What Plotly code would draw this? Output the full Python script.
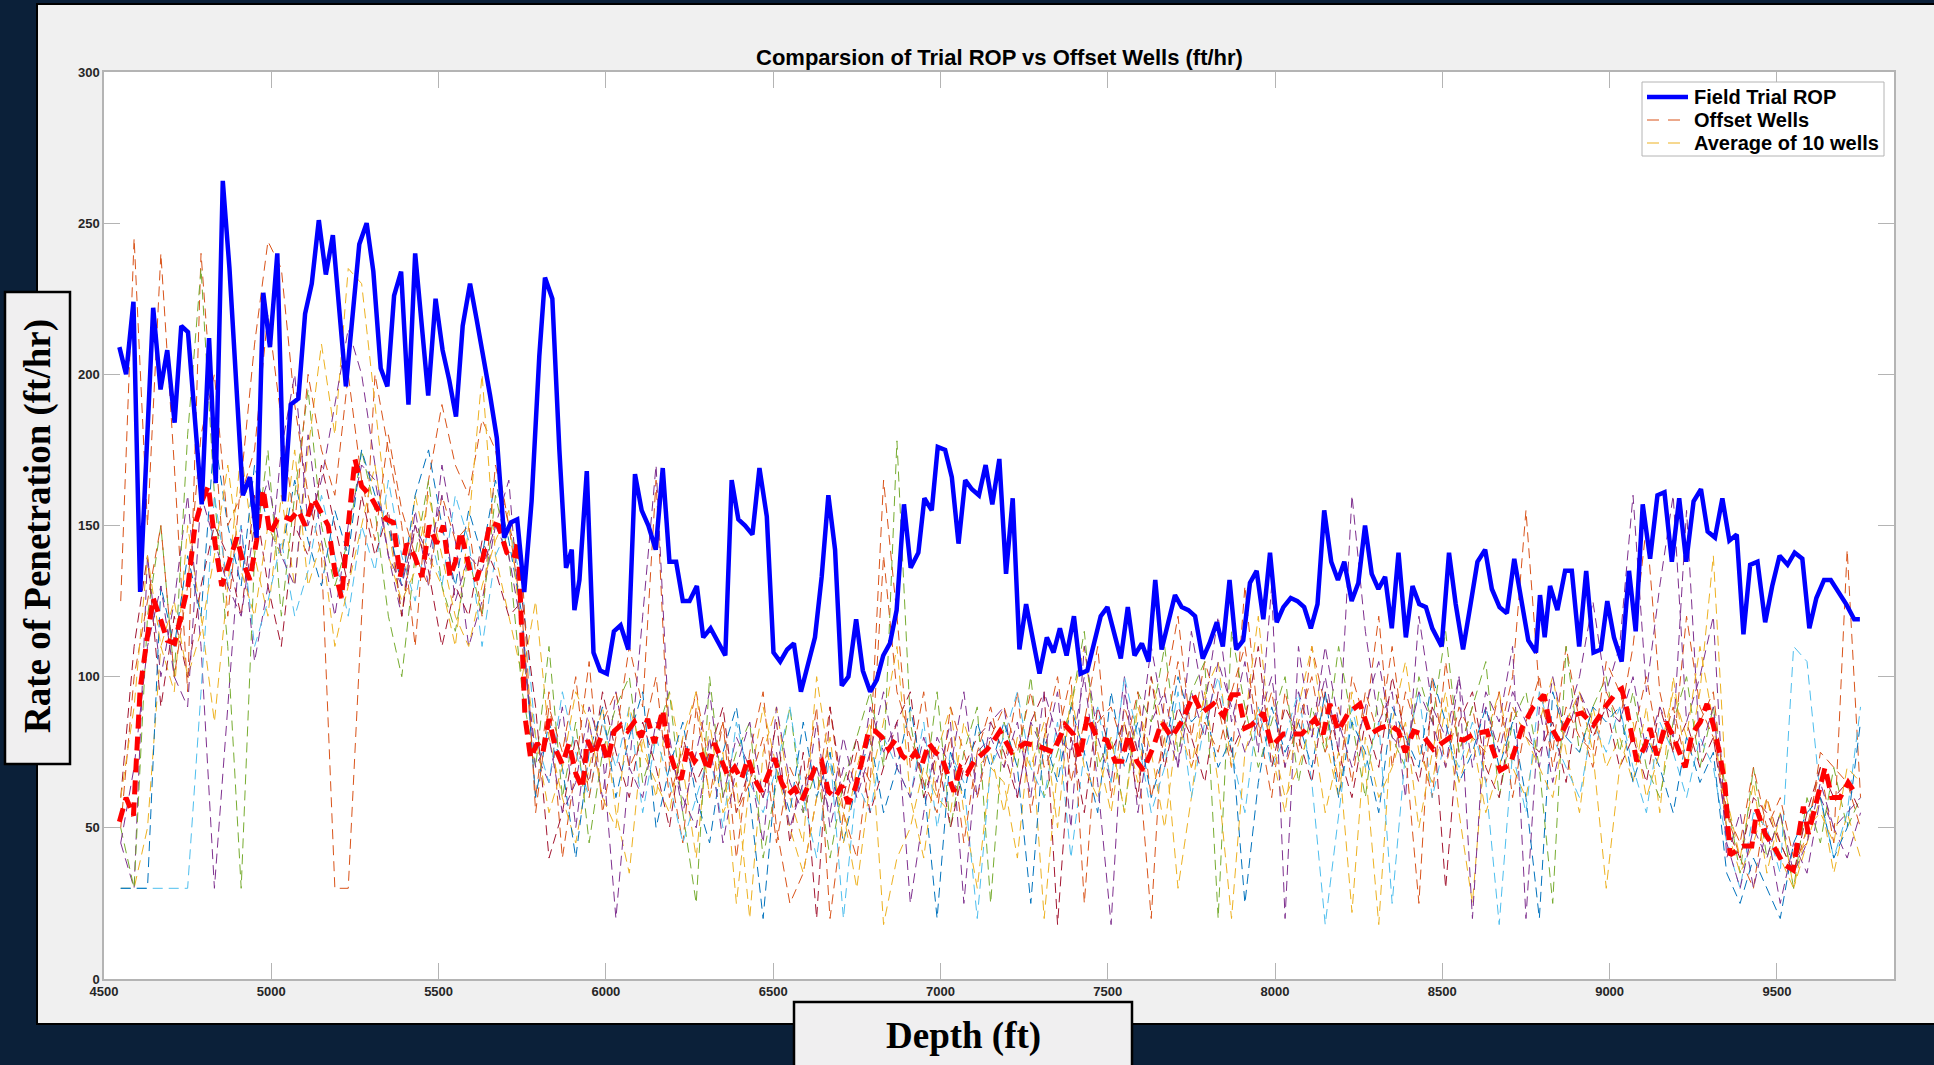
import plotly.graph_objects as go

W, H = 1934, 1065

# ---------------- field trial ROP (ft/hr) ----------------
trial_depth = [
    4546, 4566, 4588, 4608, 4647, 4669, 4689, 4711, 4731, 4751, 4792, 4814, 4834, 4855, 4875,
    4915, 4936, 4956, 4976, 4996, 5018, 5038, 5058, 5081, 5101, 5121, 5142, 5163, 5184, 5223,
    5263, 5285, 5305, 5327, 5347, 5367, 5388, 5410, 5430, 5469, 5491, 5512, 5532, 5552, 5572,
    5594, 5614, 5634, 5654, 5674, 5696, 5716, 5735, 5756, 5778, 5801, 5818, 5840, 5861, 5881,
    5898, 5906, 5921, 5943, 5963, 5983, 6003, 6024, 6044, 6067, 6087, 6107, 6127, 6149, 6170,
    6190, 6210, 6230, 6250, 6272, 6291, 6313, 6336, 6357, 6376, 6396, 6416, 6438, 6459, 6481,
    6501, 6521, 6542, 6562, 6583, 6604, 6625, 6645, 6665, 6685, 6705, 6725, 6748, 6768, 6790,
    6810, 6829, 6849, 6869, 6891, 6911, 6934, 6952, 6974, 6992, 7014, 7034, 7054, 7074, 7094,
    7115, 7135, 7155, 7176, 7196, 7216, 7236, 7256, 7276, 7296, 7318, 7338, 7357, 7377, 7399,
    7419, 7439, 7459, 7479, 7499, 7519, 7539, 7560, 7580, 7602, 7622, 7642, 7661, 7681, 7701,
    7721, 7741, 7761, 7784, 7804, 7826, 7844, 7864, 7884, 7905, 7925, 7945, 7965, 7985, 8005,
    8025, 8047, 8067, 8087, 8107, 8127, 8147, 8168, 8188, 8207, 8229, 8249, 8269, 8289, 8309,
    8329, 8349, 8369, 8391, 8411, 8431, 8451, 8470, 8498, 8520, 8540, 8562, 8583, 8605, 8628,
    8648, 8671, 8693, 8715, 8736, 8757, 8780, 8792, 8806, 8822, 8844, 8867, 8887, 8909, 8930,
    8952, 8974, 8993, 9013, 9036, 9058, 9078, 9099, 9121, 9143, 9164, 9186, 9208, 9229, 9251,
    9273, 9293, 9315, 9337, 9358, 9380, 9400, 9420, 9442, 9465, 9486, 9508, 9532, 9553, 9576,
    9597, 9618, 9641, 9661, 9684, 9707, 9731, 9748,
]
trial_rop = [
    209, 200, 224, 128, 222, 195, 208, 184, 216, 214, 157, 212, 164, 264, 235,
    160, 166, 146, 227, 209, 240, 158, 190, 192, 220, 230, 251, 233, 246, 196,
    243, 250, 234, 202, 196, 226, 234, 190, 240, 193, 225, 208, 198, 186, 216,
    230, 218, 206, 193, 179, 146, 151, 152, 128, 158, 206, 232, 225, 175, 136,
    142, 122, 132, 168, 108, 102, 101, 115, 117, 109, 167, 155, 150, 142, 169,
    138, 138, 125, 125, 130, 113, 116, 111, 107, 165, 152, 150, 147, 169, 153,
    108, 105, 109, 111, 95, 104, 113, 133, 160, 142, 97, 100, 119, 102, 95,
    99, 107, 111, 122, 157, 136, 141, 159, 155, 176, 175, 166, 144, 165, 162,
    160, 170, 157, 172, 134, 159, 109, 124, 113, 101, 113, 108, 116, 107, 120,
    101, 102, 111, 120, 123, 114, 106, 123, 107, 111, 105, 132, 109, 118, 127,
    123, 122, 120, 106, 111, 118, 110, 132, 109, 112, 131, 135, 119, 141, 118,
    123, 126, 125, 123, 116, 124, 155, 138, 132, 138, 125, 131, 150, 134, 129,
    133, 116, 141, 113, 130, 124, 123, 116, 110, 141, 124, 109, 123, 138, 142,
    129, 123, 121, 139, 126, 112, 108, 127, 113, 130, 122, 135, 135, 110, 135,
    108, 109, 125, 113, 105, 135, 115, 157, 139, 160, 161, 138, 159, 138, 158,
    162, 148, 146, 159, 145, 147, 114, 137, 138, 118, 130, 140, 137, 141, 139,
    116, 126, 132, 132, 128, 124, 119, 119,
]

# ---------------- average of the offset wells (ft/hr) ----------------
avg_depth = [
    4546, 4566, 4588, 4608, 4628, 4647, 4669, 4689, 4711, 4731, 4751, 4772, 4792, 4812, 4832,
    4852, 4875, 4897, 4915, 4936, 4956, 4976, 4996, 5018, 5038, 5058, 5081, 5101, 5126, 5146,
    5170, 5190, 5210, 5230, 5250, 5270, 5295, 5325, 5345, 5365, 5385, 5405, 5428, 5450, 5472,
    5494, 5514, 5534, 5550, 5566, 5594, 5614, 5634, 5654, 5679, 5704, 5724, 5738, 5748, 5758,
    5775, 5795, 5812, 5830, 5850, 5870, 5890, 5910, 5930, 5945, 5965, 5985, 6005, 6025, 6045,
    6065, 6085, 6105, 6125, 6145, 6170, 6185, 6205, 6225, 6245, 6265, 6285, 6305, 6325, 6345,
    6365, 6385, 6405, 6425, 6445, 6465, 6485, 6505, 6525, 6545, 6565, 6585, 6605, 6625, 6645,
    6665, 6685, 6705, 6725, 6745, 6765, 6785, 6805, 6825, 6845, 6865, 6885, 6905, 6925, 6945,
    6965, 6985, 7005, 7025, 7040, 7060, 7080, 7100, 7120, 7140, 7160, 7178, 7213, 7253, 7293,
    7338, 7373, 7397, 7417, 7439, 7467, 7497, 7522, 7542, 7562, 7587, 7607, 7637, 7661, 7691,
    7726, 7756, 7781, 7816, 7846, 7871, 7890, 7910, 7930, 7965, 7990, 8025, 8055, 8080, 8119,
    8144, 8164, 8189, 8219, 8254, 8284, 8314, 8344, 8369, 8389, 8414, 8439, 8473, 8524, 8564,
    8594, 8634, 8650, 8673, 8703, 8738, 8772, 8804, 8822, 8847, 8882, 8917, 8952, 8987, 9022,
    9036, 9052, 9066, 9081, 9106, 9121, 9141, 9169, 9191, 9226, 9246, 9271, 9291, 9310, 9330,
    9345, 9360, 9400, 9425, 9440, 9465, 9495, 9520, 9549, 9564, 9579, 9594, 9619, 9644, 9664,
    9689, 9713, 9731,
]
avg_rop = [
    52, 60, 54, 96, 112, 126, 119, 112, 111, 120, 130, 150, 158, 163, 144,
    130, 138, 146, 138, 132, 145, 162, 147, 152, 153, 152, 155, 150, 159, 155,
    150, 135, 126, 150, 172, 163, 160, 154, 152, 151, 133, 144, 140, 133, 150,
    144, 150, 133, 138, 148, 135, 132, 140, 151, 150, 141, 139, 145, 120, 87,
    73, 78, 75, 86, 76, 71, 78, 68, 63, 79, 74, 80, 72, 82, 84,
    82, 85, 80, 86, 78, 89, 77, 70, 66, 77, 72, 75, 69, 78, 72,
    67, 70, 66, 73, 66, 62, 68, 73, 65, 61, 63, 59, 64, 70, 72,
    62, 60, 64, 58, 63, 72, 82, 82, 80, 76, 79, 74, 72, 75, 71,
    78, 75, 73, 66, 62, 70, 68, 72, 74, 76, 79, 82, 75, 78, 77,
    75, 84, 81, 73, 87, 80, 79, 72, 72, 81, 72, 69, 77, 85, 80,
    86, 94, 88, 91, 87, 94, 94, 83, 84, 88, 77, 81, 81, 81, 86,
    81, 91, 82, 88, 91, 81, 83, 84, 82, 75, 82, 81, 76, 80, 79,
    81, 82, 76, 69, 71, 83, 90, 94, 84, 79, 87, 88, 84, 90, 95,
    96, 89, 80, 72, 77, 83, 74, 85, 80, 70, 81, 85, 91, 84, 74,
    64, 41, 44, 44, 56, 48, 43, 38, 36, 47, 57, 48, 59, 70, 60,
    60, 65, 62,
]

# ---------------- offset wells (ft/hr), sampled every 40 ft ----------------
well_depth = list(range(4550, 9751, 40))

well_01 = [
    125, 245, 150, 240, 170, 95, 240, 180, 120, 165, 210, 244, 235, 190, 160, 140, 30, 30, 120, 200,
    175, 150, 110, 165, 190, 170, 160, 185, 175, 150, 120,
    60, 95, 40, 70, 105, 55, 80, 110, 90, 165, 70, 45, 90, 60, 85, 40, 75, 95, 50, 25,
    35, 60, 90, 55, 40, 75, 165, 120, 70, 95, 60, 80, 45, 75, 90,
    70, 95, 55, 80, 100, 65, 85, 110, 60, 90, 75, 20, 95, 120, 80, 105, 90, 70, 130, 85,
    60, 95, 75, 110, 90, 65, 100, 85, 120, 70, 95, 80, 60, 105, 75, 90, 65, 80, 100, 155,
    95, 75, 110, 85, 70, 95,
    85, 110, 150, 95, 75, 120, 90, 80,
    55, 40, 30, 60, 45, 35, 50, 70, 45, 142, 60,
]
well_02 = [
    30, 30, 50, 110, 95, 150, 120, 85, 130, 175, 140, 120, 160, 130, 175, 210, 180, 235, 230, 190,
    150, 120, 160, 140, 130, 110, 150, 200, 140, 120, 100,
    125, 80, 60, 45, 70, 90, 55, 35, 80, 60, 95, 70, 40, 85, 55, 65, 20, 75, 90, 60,
    45, 100, 70, 55, 30, 65, 85, 110, 60, 40, 75, 90, 55, 30, 70,
    65, 40, 85, 20, 70, 90, 110, 75, 55, 85, 65, 100, 80, 30, 60, 95, 105, 70, 85, 120,
    75, 55, 90, 110, 80, 60, 95, 70, 18, 85, 105, 75, 65, 90, 55, 25, 80, 95, 70, 60,
    85, 100, 75, 55, 90, 70,
    80, 65, 90, 55, 100, 70, 95, 140,
    60, 40, 65, 35, 55, 30, 45, 60, 35, 55, 40,
]
well_03 = [
    45, 30, 140, 100, 125, 160, 110, 30, 90, 150, 105, 130, 175, 200, 150, 165, 190, 215, 200, 170,
    140, 120, 155, 130, 170, 145, 110, 125, 150, 165, 110,
    75, 65, 90, 50, 85, 60, 95, 70, 120, 170, 80, 55, 75, 95, 60, 80, 70, 45, 90, 65,
    55, 85, 50, 70, 60, 90, 75, 85, 25, 55, 80, 70, 95, 60, 85,
    90, 60, 85, 75, 95, 50, 110, 80, 65, 100, 55, 85, 95, 70, 115, 90, 120, 85, 105, 75,
    130, 20, 110, 80, 100, 75, 160, 115, 85, 95, 60, 120, 90, 80, 100, 70, 95, 85, 110, 20,
    90, 65, 85, 100, 125, 95,
    110, 160, 95, 130, 160, 85, 100, 120,
    40, 55, 30, 50, 25, 45, 35, 60, 50, 40, 55,
]
well_04 = [
    50, 30, 120, 150, 100, 180, 235, 160, 110, 30, 140, 175, 120, 160, 195, 150, 130, 145, 175, 155,
    120, 100, 140, 165, 130, 115, 140, 120, 160, 140, 95,
    70, 110, 60, 85, 45, 75, 90, 100, 65, 80, 95, 55, 25, 100, 60, 75, 85, 40, 65, 90,
    55, 70, 40, 65, 80, 95, 70, 178, 85, 60, 95, 50, 75, 90, 25,
    85, 70, 100, 60, 75, 90, 115, 70, 80, 55, 95, 85, 110, 75, 95, 105, 20, 115, 90, 70,
    85, 100, 65, 90, 75, 110, 85, 60, 95, 80, 70, 100, 85, 115, 75, 90, 105, 60, 85, 95,
    70, 25, 110, 75, 90, 100,
    75, 95, 70, 60, 85, 100, 70, 90,
    60, 35, 70, 40, 55, 30, 60, 45, 70, 50, 60,
]
well_05 = [
    30, 30, 30, 30, 30, 30, 95, 160, 130, 150, 110, 125, 145, 120, 135, 160, 140, 120, 150, 135,
    165, 140, 125, 150, 130, 160, 145, 110, 140, 150, 130,
    80, 65, 95, 75, 60, 85, 70, 90, 55, 80, 65, 45, 60, 75, 50, 85, 65, 55, 70, 90,
    60, 40, 75, 20, 65, 55, 80, 70, 60, 85, 50, 75, 65, 20, 70,
    80, 95, 70, 60, 85, 40, 75, 90, 65, 100, 80, 55, 70, 95, 60, 85, 100, 75, 55, 90,
    70, 80, 95, 65, 18, 55, 90, 70, 85, 25, 75, 95, 60, 80, 70, 85, 65, 18, 75, 55,
    95, 80, 70, 60, 85, 75,
    90, 70, 55, 85, 75, 60, 80, 70,
    45, 30, 55, 50, 35, 110, 105, 60, 40, 55, 90,
]
well_06 = [
    60, 110, 140, 90, 120, 100, 130, 150, 140, 120, 160, 130, 110, 150, 140, 170, 150, 130, 160, 140,
    155, 120, 150, 135, 110, 130, 120, 145, 135, 120, 125,
    90, 40, 55, 80, 65, 95, 75, 60, 85, 70, 50, 80, 65, 75, 90, 55, 70, 60, 85, 45,
    75, 20, 90, 60, 80, 55, 70, 85, 95, 60, 75, 50, 70, 80, 85,
    75, 60, 85, 95, 18, 80, 55, 90, 75, 85, 60, 100, 70, 90, 80, 65, 95, 75, 85, 110,
    70, 90, 80, 65, 95, 75, 60, 85, 70, 100, 80, 65, 90, 30, 85, 95, 70, 60, 90, 80,
    75, 85, 65, 95, 80, 90,
    70, 80, 65, 90, 75, 85, 70, 80,
    50, 40, 60, 55, 45, 35, 55, 70, 60, 65, 55,
]
well_07 = [
    30, 30, 30, 130, 110, 140, 120, 180, 150, 130, 170, 150, 140, 165, 145, 130, 155, 140, 175, 160,
    150, 130, 160, 175, 150, 130, 155, 140, 165, 145, 120,
    60, 85, 70, 40, 75, 90, 60, 80, 95, 50, 70, 85, 60, 45, 75, 90, 60, 20, 70, 55,
    85, 60, 75, 45, 65, 80, 55, 70, 90, 65, 20, 75, 60, 85, 70,
    85, 70, 25, 80, 65, 90, 75, 55, 95, 70, 85, 60, 75, 100, 85, 90, 70, 80, 25, 65,
    90, 75, 85, 70, 95, 60, 85, 75, 55, 90, 80, 70, 100, 85, 65, 75, 90, 70, 85, 60,
    20, 95, 80, 75, 90, 85,
    90, 65, 80, 70, 55, 80, 65, 75,
    35, 25, 40, 30, 20, 45, 55, 60, 40, 50, 85,
]
well_08 = [
    50, 100, 125, 150, 100, 130, 180, 200, 150, 160, 175, 220, 185, 150, 200, 175, 160, 200, 165, 145,
    180, 155, 140, 130, 160, 145, 150, 120, 170, 150, 135,
    55, 90, 75, 100, 60, 85, 95, 70, 80, 100, 60, 75, 95, 70, 85, 55, 65, 80, 45, 70,
    60, 90, 20, 55, 75, 65, 140, 95, 80, 65, 55, 90, 75, 60, 80,
    90, 75, 95, 70, 80, 100, 25, 85, 90, 75, 95, 60, 80, 105, 70, 85, 75, 95, 110, 80,
    95, 70, 85, 100, 75, 90, 65, 95, 80, 110, 75, 25, 100, 70, 90, 80, 75, 95, 60, 85,
    100, 70, 90, 80, 75, 105,
    95, 80, 100, 75, 90, 70, 85, 95,
    55, 45, 70, 50, 60, 40, 45, 75, 70, 65, 50,
]
well_09 = [
    60, 90, 140, 110, 125, 100, 115, 140, 170, 135, 120, 150, 140, 175, 130, 145, 110, 130, 150, 170,
    140, 125, 135, 160, 140, 120, 110, 130, 145, 155, 110,
    80, 55, 70, 95, 85, 60, 50, 90, 75, 65, 55, 80, 95, 60, 75, 25, 65, 90, 70, 50,
    35, 60, 80, 45, 70, 85, 18, 40, 50, 70, 60, 55, 85, 70, 75,
    55, 80, 70, 85, 50, 95, 70, 60, 80, 55, 90, 75, 50, 85, 70, 95, 65, 20, 75, 90,
    80, 60, 70, 85, 55, 75, 22, 80, 60, 70, 85, 50, 75, 95, 65, 80, 55, 70, 90, 80,
    70, 60, 85, 95, 75, 30,
    70, 85, 60, 75, 95, 80, 110, 85,
    50, 35, 45, 60, 40, 30, 50, 55, 45, 70, 65,
]
well_10 = [
    45, 70, 110, 130, 100, 90, 160, 145, 130, 120, 150, 165, 140, 130, 180, 145, 120, 150, 170, 165,
    140, 130, 150, 140, 160, 125, 140, 135, 150, 140, 115,
    70, 80, 55, 65, 90, 75, 20, 70, 60, 85, 75, 60, 50, 80, 45, 70, 85, 60, 75, 50,
    65, 70, 55, 80, 60, 75, 95, 70, 60, 80, 65, 85, 25, 75, 80,
    70, 85, 60, 95, 80, 75, 100, 65, 18, 95, 75, 110, 85, 70, 95, 80, 105, 90, 75, 85,
    100, 70, 95, 80, 110, 85, 70, 90, 105, 80, 75, 95, 85, 70, 100, 20, 90, 75, 95, 85,
    70, 100, 80, 95, 85, 90,
    85, 100, 75, 90, 80, 155, 75, 90,
    45, 30, 50, 40, 55, 35, 45, 65, 50, 55, 60,
]

offset_wells = [well_01, well_02, well_03, well_04, well_05,
                well_06, well_07, well_08, well_09, well_10]

# default line colour cycle; the trial curve takes the first slot
well_colors = ["#D95319", "#EDB120", "#7E2F8E", "#77AC30", "#4DBEEE",
               "#A2142F", "#0072BD", "#D95319", "#EDB120", "#7E2F8E"]

x_ticks = [4500, 5000, 5500, 6000, 6500, 7000, 7500, 8000, 8500, 9000, 9500]
y_ticks = [0, 50, 100, 150, 200, 250, 300]

title_text = "Comparsion of Trial ROP vs Offset Wells (ft/hr)"
# legend labels follow plotting order: trial curve, then the first two wells
legend_labels = ["Field Trial ROP", "Offset Wells", "Average of 10 wells"]
legend_styles = [
    dict(color="#0000FF", width=4.5, dash="solid"),
    dict(color=well_colors[0], width=1, dash="12px,9px"),
    dict(color=well_colors[1], width=1, dash="12px,9px"),
]


def fx(px):
    return px / W


def fy(py):
    return 1 - py / H


# plot frame in page pixels
PL, PR, PT, PB = 104, 1894, 72, 979

fig = go.Figure()

for i, (vals, col) in enumerate(zip(offset_wells, well_colors)):
    fig.add_trace(go.Scatter(
        x=well_depth, y=vals, mode="lines",
        line=dict(color=col, width=1, dash="10px,6px"),
        name=f"Offset well {i + 1}", showlegend=False,
    ))

fig.add_trace(go.Scatter(
    x=avg_depth, y=avg_rop, mode="lines",
    line=dict(color="#FF0000", width=5, dash="14px,8px"),
    name="Average of 10 wells", showlegend=False,
))

fig.add_trace(go.Scatter(
    x=trial_depth, y=trial_rop, mode="lines",
    line=dict(color="#0000FF", width=4.5),
    name="Field Trial ROP", showlegend=False,
))

axis_gray = "#b4b4b4"
sans = "Liberation Sans, Arial, sans-serif"
serif = "Liberation Serif, Times New Roman, serif"
tick_font = dict(family=sans, size=13, color="#262626", weight="bold")

shapes = [
    # figure panel
    dict(type="rect", xref="paper", yref="paper",
         x0=fx(37), x1=fx(1940), y0=fy(1024), y1=fy(4),
         fillcolor="#f0f0f0", line=dict(color="#000000", width=2), layer="below"),
    # white axes area
    dict(type="rect", xref="paper", yref="paper",
         x0=fx(PL), x1=fx(PR), y0=fy(PB), y1=fy(PT),
         fillcolor="#ffffff", line=dict(width=0), layer="below"),
    # y label box
    dict(type="rect", xref="paper", yref="paper",
         x0=fx(5), x1=fx(70), y0=fy(764), y1=fy(292),
         fillcolor="#f0eff0", line=dict(color="#000000", width=2.5), layer="above"),
    # x label box
    dict(type="rect", xref="paper", yref="paper",
         x0=fx(794), x1=fx(1132), y0=fy(1075), y1=fy(1002),
         fillcolor="#f0eff0", line=dict(color="#000000", width=2.5), layer="above"),
    # legend box
    dict(type="rect", xref="paper", yref="paper",
         x0=fx(1642), x1=fx(1884), y0=fy(156), y1=fy(82),
         fillcolor="#ffffff", line=dict(color="#b4b4b4", width=1), layer="above"),
]

annotations = [
    dict(text=title_text, xref="paper", yref="paper",
         x=fx((PL + PR) / 2), y=fy(58), xanchor="center", yanchor="middle",
         showarrow=False,
         font=dict(family=sans, size=22, color="#000000", weight="bold")),
    dict(text="Rate of Penetration (ft/hr)", xref="paper", yref="paper",
         x=fx(38), y=fy(526), xanchor="center", yanchor="middle",
         textangle=-90, showarrow=False,
         font=dict(family=serif, size=37, color="#000000", weight="bold")),
    dict(text="Depth (ft)", xref="paper", yref="paper",
         x=fx(963), y=fy(1036), xanchor="center", yanchor="middle",
         showarrow=False,
         font=dict(family=serif, size=37, color="#000000", weight="bold")),
]

# legend entries
for k, (label, style) in enumerate(zip(legend_labels, legend_styles)):
    ly = 97 + 23 * k
    shapes.append(dict(type="line", xref="paper", yref="paper",
                       x0=fx(1647), x1=fx(1688), y0=fy(ly), y1=fy(ly),
                       line=style, layer="above"))
    annotations.append(dict(text=label, xref="paper", yref="paper",
                            x=fx(1692), y=fy(ly), xanchor="left", yanchor="middle",
                            showarrow=False,
                            font=dict(family=sans, size=20, color="#000000",
                                      weight="bold")))

fig.update_layout(
    width=W, height=H, autosize=False,
    margin=dict(l=0, r=0, t=0, b=0, pad=0, autoexpand=False),
    paper_bgcolor="#0b2039",
    plot_bgcolor="#ffffff",
    font=dict(family=sans),
    showlegend=False,
    xaxis=dict(
        domain=[fx(PL), fx(PR)], range=[4500, 9850], automargin=False,
        tickmode="array", tickvals=x_ticks, ticktext=[str(v) for v in x_ticks],
        ticks="inside", ticklen=16, tickwidth=1, tickcolor=axis_gray,
        showline=True, linecolor=axis_gray, linewidth=1.5, mirror="ticks",
        showgrid=False, zeroline=False, tickfont=tick_font,
    ),
    yaxis=dict(
        domain=[fy(PB), fy(PT)], range=[0, 300], automargin=False,
        tickmode="array", tickvals=y_ticks, ticktext=[str(v) for v in y_ticks],
        ticks="inside", ticklen=16, tickwidth=1, tickcolor=axis_gray,
        showline=True, linecolor=axis_gray, linewidth=1.5, mirror="ticks",
        showgrid=False, zeroline=False, tickfont=tick_font,
    ),
    shapes=shapes,
    annotations=annotations,
)

fig.write_html(
    "out.html",
    config={"displayModeBar": False, "responsive": False},
    post_script=(
        "document.body.style.margin='0';"
        "document.body.style.overflow='hidden';"
        "document.body.style.background='#0b2039';"
    ),
)
